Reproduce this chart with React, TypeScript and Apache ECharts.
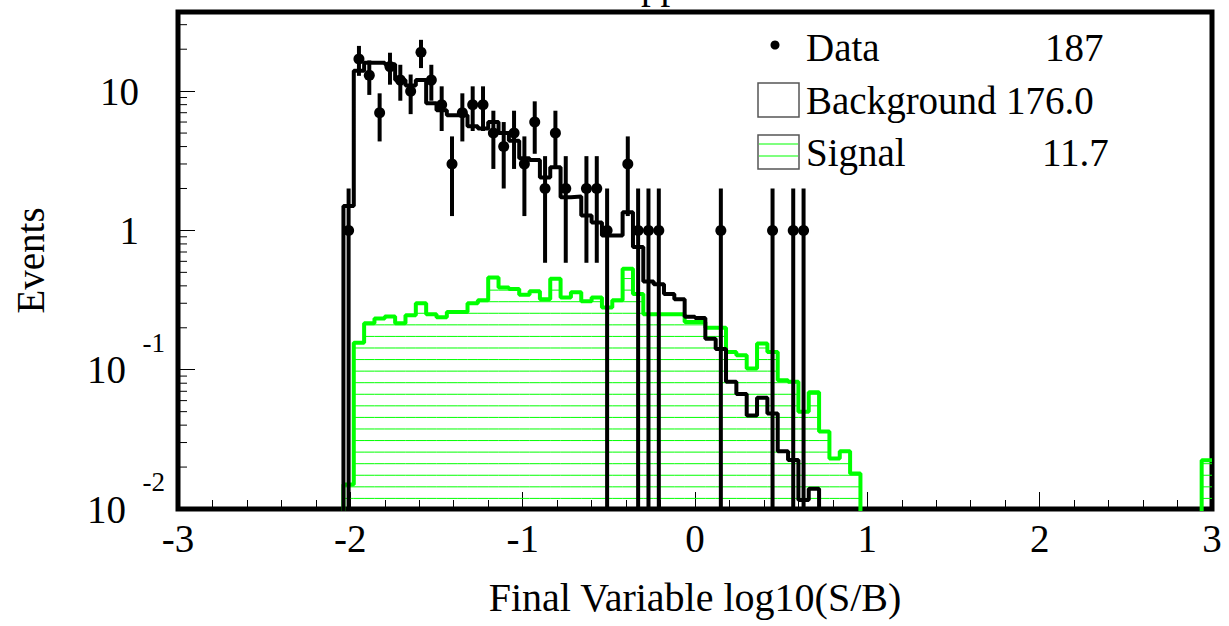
import React, { useEffect, useRef } from 'react';
import * as echarts from 'echarts';

const FONT = "'Liberation Serif', 'Times New Roman', serif";

// Histogram binning: 100 bins from -3 to 3
const X_MIN = -3;
const X_MAX = 3;
const BIN_WIDTH = 0.06;
const N_BINS = 100;
const Y_MIN = 0.01;
const Y_MAX = 37;
const Y_FLOOR = 1e-4; // empty bins are drawn below the frame (clipped)

// Background expectation, bins 16..61
const bkgFirstBin = 16;
const bkgValues = [
  1.5, 14, 16, 16, 15.6, 12, 11, 12, 8.2, 7.3,
  6.7, 6.7, 5.6, 5.4, 6, 5, 4.4, 3.3, 3.2, 2.4,
  2.84, 1.73, 1.75, 1.28, 1.14, 0.92, 0.92, 1.35, 0.76, 0.43,
  0.41, 0.35, 0.32, 0.24, 0.235, 0.167, 0.141, 0.082, 0.067, 0.047,
  0.063, 0.0485, 0.026, 0.0225, 0.0116, 0.014,
];

// Signal expectation, bins 16..65 plus one bin at the right edge
const sigFirstBin = 16;
const sigValues = [
  0.015, 0.156, 0.216, 0.233, 0.241, 0.216, 0.246, 0.30, 0.25, 0.238,
  0.26, 0.26, 0.30, 0.315, 0.46, 0.39, 0.38, 0.345, 0.366, 0.32,
  0.45, 0.33, 0.36, 0.31, 0.33, 0.28, 0.315, 0.53, 0.35, 0.25,
  0.25, 0.25, 0.25, 0.22, 0.22, 0.20, 0.20, 0.134, 0.127, 0.102,
  0.154, 0.134, 0.084, 0.082, 0.050, 0.069, 0.036, 0.023, 0.026, 0.018,
];
const sigExtraBin = 99;
const sigExtraValue = 0.0224;

// Observed data counts, bins 16..60
const dataFirstBin = 16;
const dataCounts = [
  1, 17, 13, 7, 15, 12, 10, 19, 12, 8,
  3, 7, 8, 8, 5, 4, 5, 3, 6, 2,
  5, 2, 0, 2, 2, 1, 0, 3, 1, 1,
  1, 0, 0, 0, 0, 0, 1, 0, 0, 0,
  0, 1, 0, 1, 1,
];

const yMinorTicks = [
  0.02, 0.03, 0.04, 0.05, 0.06, 0.07, 0.08, 0.09,
  0.2, 0.3, 0.4, 0.5, 0.6, 0.7, 0.8, 0.9,
  2, 3, 4, 5, 6, 7, 8, 9,
  20, 30,
];

const legendRows = [
  { label: 'Data', count: '187' },
  { label: 'Background', count: '176.0' },
  { label: 'Signal', count: '11.7' },
];

const HATCH_STEP = 11.57;
const HATCH_OFFSET = 10.6;

const edge = (i: number) => X_MIN + i * BIN_WIDTH;

function fullBins(first: number, vals: number[]): number[] {
  const arr = new Array(N_BINS).fill(0);
  vals.forEach((v, k) => {
    arr[first + k] = v;
  });
  return arr;
}

function stepPoints(arr: number[]): number[][] {
  const pts: number[][] = [];
  for (let i = 0; i < N_BINS; i++) {
    const v = arr[i] > 0 ? arr[i] : Y_FLOOR;
    pts.push([edge(i), v], [edge(i + 1), v]);
  }
  return pts;
}

export default function App() {
  const ref = useRef<HTMLDivElement>(null);

  useEffect(() => {
    const chart = echarts.init(ref.current!, null, { renderer: 'svg' });

    const bkgBins = fullBins(bkgFirstBin, bkgValues);
    const sigBins = fullBins(sigFirstBin, sigValues);
    sigBins[sigExtraBin] = sigExtraValue;

    const sigNonZero = sigBins
      .map((v, i) => [i, v])
      .filter((d) => d[1] > 0);
    const dataPts = dataCounts
      .map((n, k) => [dataFirstBin + k, n])
      .filter((d) => d[1] > 0);

    const legendX = 758;
    const rowY = [47, 100, 152];

    const legendGraphics: any[] = [];
    legendGraphics.push({
      type: 'circle',
      shape: { cx: 775, cy: rowY[0] - 2, r: 4.5 },
      style: { fill: '#000' },
    });
    legendGraphics.push({
      type: 'rect',
      shape: { x: legendX, y: rowY[1] - 17, width: 41, height: 34 },
      style: { fill: 'none', stroke: '#555', lineWidth: 1.5 },
    });
    legendGraphics.push({
      type: 'rect',
      shape: { x: legendX, y: rowY[2] - 17, width: 41, height: 34 },
      style: { fill: 'none', stroke: '#555', lineWidth: 1.5 },
    });
    [rowY[2] - 8, rowY[2] + 4].forEach((yy) => {
      legendGraphics.push({
        type: 'line',
        shape: { x1: legendX + 1, y1: yy, x2: legendX + 40, y2: yy },
        style: { stroke: '#00ff00', lineWidth: 1.2 },
      });
    });
    const countX = [1045, 1006, 1042];
    legendRows.forEach((r, k) => {
      legendGraphics.push({
        type: 'text',
        x: 806,
        y: rowY[k],
        style: {
          text: r.label,
          font: `39px ${FONT}`,
          fill: '#000',
          verticalAlign: 'middle',
          align: 'left',
        },
      });
      legendGraphics.push({
        type: 'text',
        x: countX[k],
        y: rowY[k],
        style: {
          text: r.count,
          font: `39px ${FONT}`,
          fill: '#000',
          verticalAlign: 'middle',
          align: 'left',
        },
      });
    });
    // title, cut off at the top of the canvas as in the reference
    legendGraphics.push({
      type: 'text',
      x: 641,
      y: -16,
      style: {
        text: 'pp',
        font: `39px ${FONT}`,
        fill: '#000',
        verticalAlign: 'middle',
        align: 'left',
      },
    });

    const option: any = {
      animation: false,
      backgroundColor: '#fff',
      grid: {
        left: 178,
        right: 17,
        top: 12,
        bottom: 117,
        show: true,
        borderColor: '#000',
        borderWidth: 5,
        backgroundColor: 'transparent',
        containLabel: false,
        outerBoundsMode: 'none',
      },
      xAxis: {
        type: 'value',
        min: X_MIN,
        max: X_MAX,
        interval: 1,
        name: 'Final Variable log10(S/B)',
        nameLocation: 'middle',
        nameGap: 68,
        nameTextStyle: { fontFamily: FONT, fontSize: 40, color: '#000', lineHeight: 40 },
        axisLine: { show: false, onZero: false },
        axisTick: { show: true, inside: true, length: 17, lineStyle: { color: '#000', width: 1 } },
        minorTick: { show: true, splitNumber: 5, length: 9, lineStyle: { color: '#000', width: 1 } },
        splitLine: { show: false },
        minorSplitLine: { show: false },
        axisLabel: {
          margin: 9,
          fontFamily: FONT,
          fontSize: 39,
          lineHeight: 40,
          color: '#000',
          formatter: (v: number) => String(v),
        },
      },
      yAxis: {
        type: 'log',
        logBase: 10,
        min: Y_MIN,
        max: Y_MAX,
        name: 'Events',
        nameLocation: 'middle',
        nameGap: 128,
        nameTextStyle: { fontFamily: FONT, fontSize: 39, color: '#000', lineHeight: 40 },
        axisLine: { show: false, onZero: false },
        axisTick: { show: true, inside: true, length: 17, lineStyle: { color: '#000', width: 1 } },
        splitLine: { show: false },
        axisLabel: {
          margin: 13,
          showMaxLabel: false,
          formatter: (v: number) => {
            const l = Math.log10(v);
            const e = Math.round(l);
            if (Math.abs(l - e) > 1e-6) return '';
            if (e === 1) return '{b|10}{p| }';
            if (e === 0) return '{b|1}{p| }';
            return `{s|${e}}\n{b|10}{q| }\n{e| }`;
          },
          rich: {
            b: { fontFamily: FONT, fontSize: 39, lineHeight: 40, color: '#000', align: 'right' },
            p: { width: 26, fontSize: 10, align: 'right' },
            q: { width: 39, fontSize: 10, align: 'right' },
            s: { fontFamily: FONT, fontSize: 27, lineHeight: 14, color: '#000', align: 'right' },
            e: { fontSize: 10, lineHeight: 14, align: 'right' },
          },
        },
      },
      graphic: legendGraphics,
      series: [
        {
          name: 'SignalHatch',
          type: 'custom',
          z: 1,
          clip: true,
          data: sigNonZero,
          renderItem: (params: any, api: any) => {
            const i = api.value(0);
            const v = api.value(1);
            const tl = api.coord([edge(i), v]);
            const br = api.coord([edge(i + 1), Y_MIN]);
            const children: any[] = [];
            for (let y = br[1] - HATCH_OFFSET; y > tl[1]; y -= HATCH_STEP) {
              children.push({
                type: 'line',
                shape: { x1: tl[0], y1: y, x2: br[0], y2: y },
                style: { stroke: '#00ff00', lineWidth: 1 },
              });
            }
            return { type: 'group', children };
          },
        },
        {
          name: 'Signal',
          type: 'line',
          z: 2,
          data: stepPoints(sigBins),
          showSymbol: false,
          clip: true,
          lineStyle: { color: '#00ff00', width: 4 },
        },
        {
          name: 'Background',
          type: 'line',
          z: 3,
          data: stepPoints(bkgBins),
          showSymbol: false,
          clip: true,
          lineStyle: { color: '#000', width: 4 },
        },
        {
          name: 'Data',
          type: 'custom',
          z: 4,
          clip: true,
          data: dataPts,
          renderItem: (params: any, api: any) => {
            const i = api.value(0);
            const n = api.value(1);
            const xc = edge(i) + BIN_WIDTH / 2;
            const err = Math.sqrt(n);
            const top = api.coord([xc, n + err]);
            const low = n - err;
            const bottomPx = params.coordSys.y + params.coordSys.height;
            const bot = low > 0 ? api.coord([xc, low]) : [top[0], bottomPx];
            const c = api.coord([xc, n]);
            return {
              type: 'group',
              children: [
                {
                  type: 'line',
                  shape: { x1: top[0], y1: top[1], x2: bot[0], y2: bot[1] },
                  style: { stroke: '#000', lineWidth: 4 },
                },
                {
                  type: 'circle',
                  shape: { cx: c[0], cy: c[1], r: 5.5 },
                  style: { fill: '#000' },
                },
              ],
            };
          },
        },
        {
          name: 'YMinorTicks',
          type: 'custom',
          z: 5,
          data: yMinorTicks.map((v) => [X_MIN, v]),
          renderItem: (params: any, api: any) => {
            const p = api.coord([api.value(0), api.value(1)]);
            return {
              type: 'line',
              shape: { x1: p[0], y1: p[1], x2: p[0] + 9, y2: p[1] },
              style: { stroke: '#000', lineWidth: 1 },
            };
          },
        },
      ],
    };

    chart.setOption(option);
    return () => chart.dispose();
  }, []);

  return (
    <div
      ref={ref}
      style={{ position: 'absolute', left: 0, top: 0, width: 1229, height: 626, background: '#fff' }}
    />
  );
}
